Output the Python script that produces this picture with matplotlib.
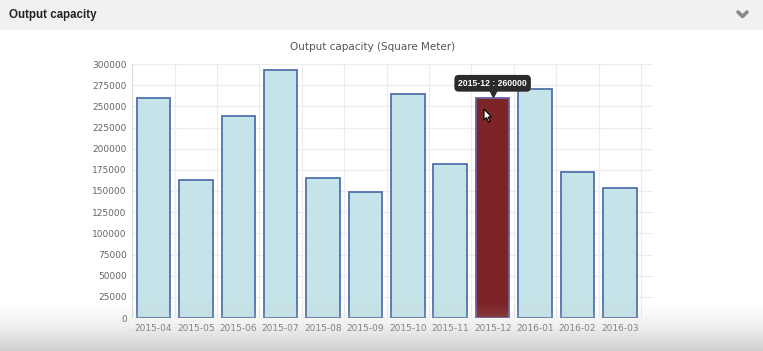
import matplotlib
matplotlib.use("Agg")
import matplotlib.pyplot as plt
import numpy as np
from matplotlib.patches import Polygon, Rectangle
from matplotlib.transforms import offset_copy

months = ["2015-04", "2015-05", "2015-06", "2015-07", "2015-08", "2015-09",
          "2015-10", "2015-11", "2015-12", "2016-01", "2016-02", "2016-03"]
capacity = [260000, 163000, 239000, 293000, 165000, 149000,
            265000, 182000, 260000, 271000, 173000, 153000]
highlight = "2015-12"

W, H = 763, 351
fig = plt.figure(figsize=(W / 100, H / 100), dpi=100)
fig.patch.set_facecolor("white")

# header band
hdr = fig.add_axes([0, 1 - 30 / H, 1, 30 / H])
hdr.set_xlim(0, W)
hdr.set_ylim(30, 0)
hdr.axis("off")
hdr.add_patch(Rectangle((0, 0), W, 30, color="#f1f1f1"))
hdr.plot([0, W], [29.5, 29.5], color="#e2e2e2", lw=1)
hdr.text(9, 15, "Output capacity", fontsize=8.3, fontweight="bold", color="#222222",
         va="center", ha="left", family="Liberation Sans")
hdr.plot([738, 742.5, 747], [12, 16.5, 12], color="#8a8a8a", lw=2.6,
         solid_capstyle="round")

# main chart
left, right, bottom, top = 132.3, 653, 318, 64
ax = fig.add_axes([left / W, 1 - bottom / H, (right - left) / W, (bottom - top) / H])
x = np.arange(len(months))
fills = ["#7d2427" if m == highlight else "#c5e3e8" for m in months]
edges = ["#6a62a0" if m == highlight else "#4f73aa" for m in months]
ax.bar(x, capacity, width=0.79, color=fills, edgecolor=edges, linewidth=1.3, zorder=3)

ax.set_xlim(-0.5, 11.5 + 12 / 42.4)
ax.set_ylim(0, 300000)
ax.set_yticks(np.arange(0, 300001, 25000))
ax.set_xticks(x)
ax.set_xticklabels(months)
for b in np.arange(-0.5, 12, 1):
    ax.axvline(b, color="#ececec", lw=0.8, zorder=1)
ax.grid(axis="y", color="#ececec", lw=0.8, zorder=1)
for s in ax.spines.values():
    s.set_visible(False)
ax.axvline(-0.5, color="#dcdcdc", lw=0.8, zorder=2)
ax.tick_params(length=0, labelsize=6.5, colors="#666666", pad=4)

fig.text(373 / W, 1 - 47 / H, "Output capacity (Square Meter)", fontsize=7.5,
         color="#555555", ha="center", va="center")

# tooltip above the highlighted bar
hi = months.index(highlight)
ax.annotate(f"{highlight} : {capacity[hi]}", xy=(hi, capacity[hi]), xytext=(0, 10.5),
            textcoords="offset points", ha="center", va="center", color="white",
            fontsize=6.2, fontweight="bold", zorder=7, family="Liberation Sans",
            bbox=dict(boxstyle="round,pad=0.45,rounding_size=0.5", fc="#2b2b2b", ec="none"))
ax.plot([hi], [capacity[hi]], marker="v", ms=6, color="#2b2b2b", zorder=6,
        transform=offset_copy(ax.transData, fig=fig, y=3.5, units="points"))

# mouse cursor
cur = fig.add_axes([0, 0, 1, 1])
cur.set_xlim(0, W)
cur.set_ylim(H, 0)
cur.axis("off")
cur.add_patch(Polygon([[484, 109], [484, 120], [486.5, 117.5], [488.5, 122], [490, 121.3],
                       [488.2, 117], [491.5, 117]],
                      facecolor="white", edgecolor="black", lw=0.8, zorder=10))

# bottom fade
g = np.linspace(0, 1, 64) ** 1.6
rgba = np.zeros((64, 1, 4))
rgba[..., 0] = rgba[..., 1] = rgba[..., 2] = 0.78
rgba[:, 0, 3] = g * 0.85
cur.imshow(rgba, extent=[0, W, H, 300], aspect="auto", zorder=9)
cur.set_xlim(0, W)
cur.set_ylim(H, 0)

fig.savefig("out.png", dpi=100)
